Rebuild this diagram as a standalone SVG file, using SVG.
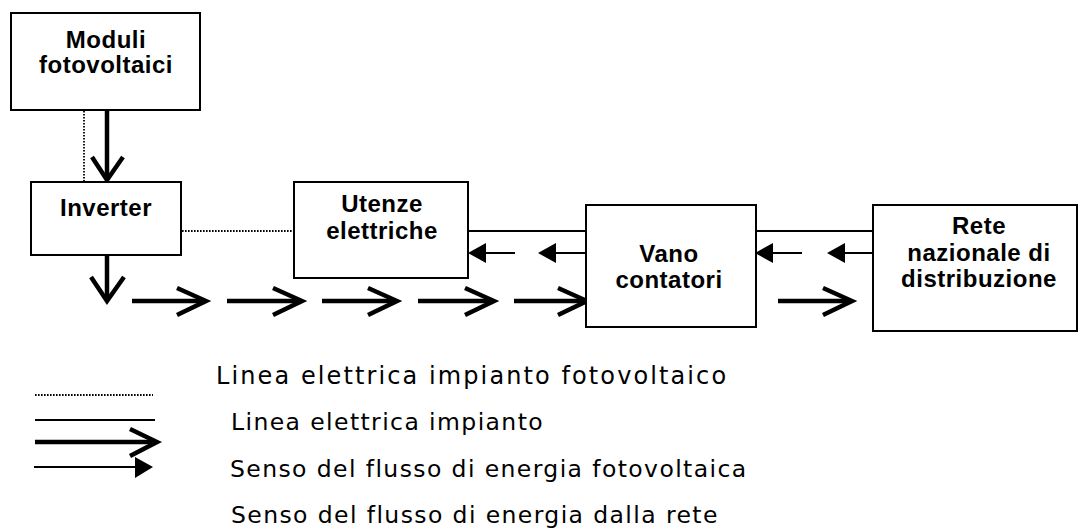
<svg xmlns="http://www.w3.org/2000/svg" width="1079" height="532" viewBox="0 0 1079 532">
<style>
.box{fill:#fff;stroke:#000;stroke-width:2}
.lbl{font-family:"Liberation Sans",Arial,sans-serif;font-weight:bold;font-size:24px;letter-spacing:0.5px;fill:#000;text-anchor:middle}
.leg{font-family:"DejaVu Sans",Verdana,sans-serif;font-size:23.5px;letter-spacing:1.4px;fill:#000}
.dot{stroke:#000;stroke-width:1.8;stroke-dasharray:1.6 1.4;fill:none}
.sol{stroke:#000;stroke-width:2;fill:none}
.thick{stroke:#000;stroke-width:4.5;fill:none;stroke-linejoin:miter}
.tri{fill:#000}
</style>
<rect width="1079" height="532" fill="#fff"/>
<g id="connectors">
  <line class="dot" x1="84" y1="111" x2="84" y2="181"/>
  <line class="dot" x1="182" y1="231" x2="293" y2="231"/>
  <line class="sol" x1="468" y1="231" x2="586" y2="231"/>
  <line class="sol" x1="756" y1="231" x2="873" y2="231"/>
  <line class="thick" x1="107" y1="111" x2="107" y2="180"/>
  <polyline class="thick" points="92,157 107,180 123,157"/>
  <line class="thick" x1="107" y1="256" x2="107" y2="301"/>
  <polyline class="thick" points="91,277 107,301 124,277"/>
  <line class="thick" x1="132" y1="301" x2="205" y2="301"/>
  <polyline class="thick" points="177,288 206,301 177,315"/>
  <line class="thick" x1="227" y1="301" x2="301" y2="301"/>
  <polyline class="thick" points="273,288 302,301 273,315"/>
  <line class="thick" x1="322" y1="301" x2="396" y2="301"/>
  <polyline class="thick" points="368,288 397,301 368,315"/>
  <line class="thick" x1="418" y1="301" x2="493" y2="301"/>
  <polyline class="thick" points="465,288 494,301 465,315"/>
  <line class="thick" x1="514" y1="301" x2="586" y2="301"/>
  <polyline class="thick" points="558,288 587,301 558,315"/>
  <line class="thick" x1="778" y1="301" x2="851" y2="301"/>
  <polyline class="thick" points="823,288 852,301 823,315"/>
  <line class="sol" x1="515" y1="253" x2="480" y2="253"/>
  <polygon class="tri" points="468,253 486,243 486,263"/>
  <line class="sol" x1="586" y1="253" x2="550" y2="253"/>
  <polygon class="tri" points="538,253 556,243 556,263"/>
  <line class="sol" x1="802" y1="253" x2="767" y2="253"/>
  <polygon class="tri" points="755,253 773,243 773,263"/>
  <line class="sol" x1="873" y1="253" x2="839" y2="253"/>
  <polygon class="tri" points="827,253 845,243 845,263"/>
</g>
<g id="moduli">
  <rect class="box" x="11" y="13" width="189" height="97"/>
  <text class="lbl" x="106" y="48">Moduli</text>
  <text class="lbl" x="106" y="73">fotovoltaici</text>
</g>
<g id="inverter">
  <rect class="box" x="31" y="182" width="150" height="73"/>
  <text class="lbl" x="106" y="216">Inverter</text>
</g>
<g id="utenze">
  <rect class="box" x="294" y="182" width="174" height="96"/>
  <text class="lbl" x="382" y="212">Utenze</text>
  <text class="lbl" x="382" y="239">elettriche</text>
</g>
<g id="vano">
  <rect class="box" x="586" y="205" width="170" height="122"/>
  <text class="lbl" x="669" y="262">Vano</text>
  <text class="lbl" x="669" y="288">contatori</text>
</g>
<g id="rete">
  <rect class="box" x="873" y="205" width="204" height="126"/>
  <text class="lbl" x="979" y="234">Rete</text>
  <text class="lbl" x="979" y="261">nazionale di</text>
  <text class="lbl" x="979" y="287">distribuzione</text>
</g>
<g id="legend">
  <line class="dot" x1="35" y1="395" x2="153" y2="395"/>
  <line class="sol" x1="35" y1="420" x2="155" y2="420"/>
  <line class="thick" x1="35" y1="442" x2="156" y2="442"/>
  <polyline class="thick" points="130,429 157,442 130,456"/>
  <line class="sol" x1="34" y1="467" x2="140" y2="467"/>
  <polygon class="tri" points="153,467 135,457 135,478"/>
  <text class="leg" x="216" y="384" style="font-size:24px;letter-spacing:2.1px">Linea elettrica impianto fotovoltaico</text>
  <text class="leg" x="231" y="430">Linea elettrica impianto</text>
  <text class="leg" x="230" y="477">Senso del flusso di energia fotovoltaica</text>
  <text class="leg" x="231" y="523">Senso del flusso di energia dalla rete</text>
</g>
</svg>
